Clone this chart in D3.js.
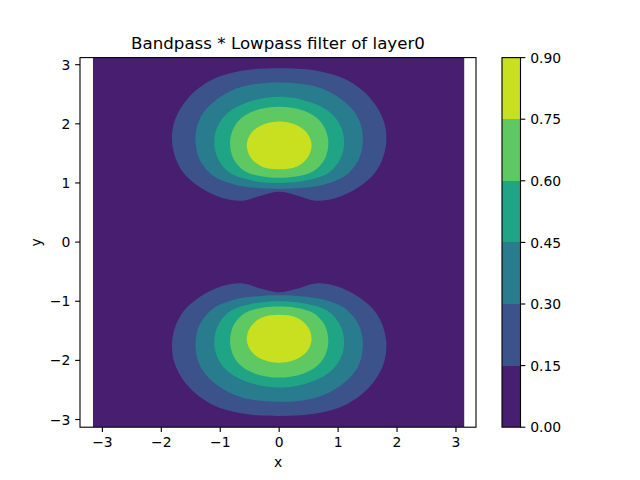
<!DOCTYPE html>
<html>
<head>
<meta charset="utf-8">
<script src="https://cdn.jsdelivr.net/npm/d3@7"></script>
<style>
  html, body { margin: 0; padding: 0; background: #fff; }
  svg { display: block; }
  text { font-family: "DejaVu Sans", sans-serif; fill: #000; }
</style>
</head>
<body>
<svg id="chart" width="640" height="480"></svg>
<script>
// ---------------- data ----------------
const title = "Bandpass * Lowpass filter of layer0";
const levels = [0, 0.15, 0.30, 0.45, 0.60, 0.75, 0.90];
const cbTicks = [0, 0.15, 0.30, 0.45, 0.60, 0.75, 0.90];
const xTicks = [-3, -2, -1, 0, 1, 2, 3];
const yTicks = [-3, -2, -1, 0, 1, 2, 3];
const xData = [-3.16, 3.14];   // extent of the sampled grid
const yData = [-3.13, 3.12];
const xLimits = [-3.38, 3.34]; // axis limits (equal aspect, data limits widened)
const yLimits = [-3.13, 3.12];

// Contour boundaries of the upper blob, left half (x <= 0),
// listed from the top (x = 0) round the left side to the bottom (x = 0).
const contour015 = [[0, 2.94], [-0.62, 2.90], [-1.15, 2.74], [-1.55, 2.43], [-1.78, 2.03], [-1.81, 1.62],
  [-1.66, 1.22], [-1.35, 0.93], [-0.95, 0.74], [-0.62, 0.70], [-0.30, 0.79], [0, 0.85]];
const contour030 = [[0, 2.70], [-0.62, 2.63], [-1.05, 2.42], [-1.33, 2.12], [-1.42, 1.78], [-1.36, 1.42],
  [-1.13, 1.13], [-0.75, 0.97], [-0.30, 0.91], [0, 0.90]];
const contour045 = [[0, 2.46], [-0.55, 2.36], [-0.92, 2.14], [-1.09, 1.82], [-1.06, 1.46], [-0.85, 1.18],
  [-0.50, 1.05], [0, 1.00]];
const contour060 = [[0, 2.29], [-0.42, 2.22], [-0.70, 2.04], [-0.83, 1.74], [-0.78, 1.42], [-0.58, 1.20],
  [-0.28, 1.11], [0, 1.09]];
const contour075 = [[0, 2.04], [-0.27, 1.99], [-0.47, 1.85], [-0.55, 1.65], [-0.49, 1.44], [-0.30, 1.28],
  [0, 1.23]];
const contourHalves = [contour015, contour030, contour045, contour060, contour075];

// ---------------- layout ----------------
const svg = d3.select("#chart");
const ax = { left: 80, right: 476, top: 57.6, bottom: 427.2 };
const cb = { left: 502, right: 520.5, top: 57.6, bottom: 427.2 };
const fs = 13.9;
const tickLen = 4.86, pad = 4.86;
const fmtNum = d => d < 0 ? "\u2212" + Math.abs(d) : String(d);

const x = d3.scaleLinear().domain(xLimits).range([ax.left, ax.right]);
const y = d3.scaleLinear().domain(yLimits).range([ax.bottom, ax.top]);
const color = d3.scaleSequential(d3.interpolateViridis).domain([levels[0], levels[levels.length - 1]]);
const bandColors = levels.slice(0, -1).map((l, i) => color((l + levels[i + 1]) / 2));

svg.append("defs").append("clipPath").attr("id", "axclip")
  .append("rect").attr("x", ax.left).attr("y", ax.top)
  .attr("width", ax.right - ax.left).attr("height", ax.bottom - ax.top);

const plot = svg.append("g").attr("clip-path", "url(#axclip)");

// background band (lowest level) over the grid extent
plot.append("rect")
  .attr("x", x(xData[0])).attr("y", y(yData[1]))
  .attr("width", x(xData[1]) - x(xData[0]))
  .attr("height", y(yData[0]) - y(yData[1]))
  .attr("fill", bandColors[0]);

function ring(half, sy) {
  const left = half.map(([px, py]) => [px, sy * py]);
  const right = half.slice(1, -1).reverse().map(([px, py]) => [-px, sy * py]);
  return left.concat(right);
}
const line = d3.line().x(d => x(d[0])).y(d => y(d[1])).curve(d3.curveCatmullRomClosed.alpha(0.5));

contourHalves.forEach((half, i) => {
  [1, -1].forEach(sy => {
    plot.append("path")
      .attr("d", line(ring(half, sy)))
      .attr("fill", bandColors[i + 1]);
  });
});

// ---------------- axes ----------------
const axG = svg.append("g");
axG.append("rect").attr("x", ax.left).attr("y", ax.top)
  .attr("width", ax.right - ax.left).attr("height", ax.bottom - ax.top)
  .attr("fill", "none").attr("stroke", "#000").attr("stroke-width", 1.1);

xTicks.forEach(t => {
  axG.append("line").attr("x1", x(t)).attr("x2", x(t))
    .attr("y1", ax.bottom).attr("y2", ax.bottom + tickLen)
    .attr("stroke", "#000").attr("stroke-width", 1.1);
  axG.append("text").attr("x", x(t)).attr("y", ax.bottom + tickLen + pad + 10.3)
    .attr("text-anchor", "middle").attr("font-size", fs).text(fmtNum(t));
});
yTicks.forEach(t => {
  axG.append("line").attr("x1", ax.left - tickLen).attr("x2", ax.left)
    .attr("y1", y(t)).attr("y2", y(t))
    .attr("stroke", "#000").attr("stroke-width", 1.1);
  axG.append("text").attr("x", ax.left - tickLen - pad).attr("y", y(t) + 5.1)
    .attr("text-anchor", "end").attr("font-size", fs).text(fmtNum(t));
});

axG.append("text").attr("x", (ax.left + ax.right) / 2).attr("y", 466.5)
  .attr("text-anchor", "middle").attr("font-size", fs).text("x");
axG.append("text")
  .attr("transform", `translate(${41},${(ax.top + ax.bottom) / 2}) rotate(-90)`)
  .attr("text-anchor", "middle").attr("font-size", fs).text("y");

svg.append("text").attr("x", (ax.left + ax.right) / 2).attr("y", 49)
  .attr("text-anchor", "middle").attr("font-size", 16.67).text(title);

// ---------------- colorbar ----------------
const cy = d3.scaleLinear().domain([levels[0], levels[levels.length - 1]]).range([cb.bottom, cb.top]);
const cbG = svg.append("g");
bandColors.forEach((c, i) => {
  cbG.append("rect").attr("x", cb.left).attr("y", cy(levels[i + 1]))
    .attr("width", cb.right - cb.left).attr("height", cy(levels[i]) - cy(levels[i + 1]))
    .attr("fill", c).attr("shape-rendering", "crispEdges");
});
cbG.append("rect").attr("x", cb.left).attr("y", cb.top)
  .attr("width", cb.right - cb.left).attr("height", cb.bottom - cb.top)
  .attr("fill", "none").attr("stroke", "#000").attr("stroke-width", 1.1);
cbTicks.forEach(t => {
  cbG.append("line").attr("x1", cb.right).attr("x2", cb.right + tickLen)
    .attr("y1", cy(t)).attr("y2", cy(t)).attr("stroke", "#000").attr("stroke-width", 1.1);
  cbG.append("text").attr("x", cb.right + tickLen + pad).attr("y", cy(t) + 5.1)
    .attr("font-size", fs).text(t.toFixed(2));
});
</script>
</body>
</html>
